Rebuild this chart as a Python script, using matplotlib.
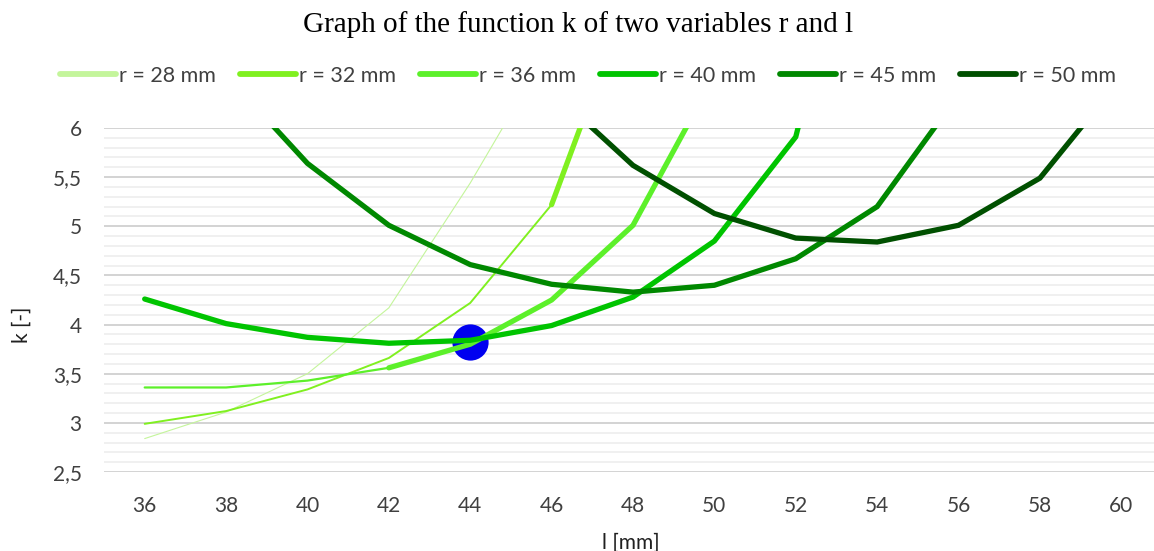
import matplotlib
matplotlib.use("Agg")
import matplotlib.pyplot as plt
import numpy as np
from matplotlib.lines import Line2D
from matplotlib.ticker import FixedLocator, MultipleLocator

plt.rcParams.update(
    {
        "font.family": ["Lato", "DejaVu Sans"],
        "axes.spines.top": False,
        "axes.spines.right": False,
        "axes.spines.left": False,
        "axes.spines.bottom": False,
    }
)

nan = np.nan
L = [36, 38, 40, 42, 44, 46, 48, 50, 52, 54, 56, 58, 60]
K28 = [2.84, 3.11, 3.50, 4.17, 5.44, 6.85, nan, nan, nan, nan, nan, nan, nan]
K32 = [2.99, 3.12, 3.34, 3.66, 4.22, 5.22, 7.45, nan, nan, nan, nan, nan, nan]
K36 = [3.36, 3.36, 3.43, 3.56, 3.80, 4.25, 5.01, 6.53, nan, nan, nan, nan, nan]
K40 = [4.26, 4.01, 3.87, 3.81, 3.84, 3.99, 4.28, 4.85, 5.91, 9.2, nan, nan, nan]
K45 = [nan, 6.54, 5.64, 5.01, 4.61, 4.41, 4.33, 4.40, 4.67, 5.20, 6.34, nan, nan]
K50 = [nan, nan, nan, nan, nan, 6.38, 5.62, 5.13, 4.88, 4.84, 5.01, 5.49, 6.51]
LABELS = ["r = 28 mm", "r = 32 mm", "r = 36 mm", "r = 40 mm", "r = 45 mm", "r = 50 mm"]
POINT_L = [44]
POINT_K = [3.82]

COLORS = ["#c4f59b", "#80f020", "#5cf02a", "#00c400", "#008800", "#005000"]
# index where the line turns thick (thin before it), and thin width
THICK_FROM = [None, 5, 3, 0, 0, 0]
THIN_W = [0.8, 1.4, 1.6, 1.6, 1.6, 1.6]
THICK_W = 3.8

fig = plt.figure(figsize=(11.54, 5.51), dpi=100)
ax = fig.add_axes([104 / 1154, 1 - 472 / 551, 1058 / 1154, 344 / 551])

x = np.array(L, dtype=float)
series = [K28, K32, K36, K40, K45, K50]
for i, ks in enumerate(series):
    y = np.array(ks, dtype=float)
    cut = THICK_FROM[i]
    if cut is None:
        ax.plot(x, y, color=COLORS[i], lw=THIN_W[i], solid_capstyle="round", zorder=3)
        continue
    if cut > 0:
        ax.plot(x[: cut + 1], y[: cut + 1], color=COLORS[i], lw=THIN_W[i],
                solid_capstyle="round", zorder=3)
    ax.plot(x[cut:], y[cut:], color=COLORS[i], lw=THICK_W, solid_capstyle="round",
            solid_joinstyle="miter", zorder=3 + i * 0.1)

ax.scatter(POINT_L, POINT_K, s=680, color="#0000f0", zorder=2.5, linewidths=0)

ax.set_xlim(35, 61)
ax.set_ylim(2.5, 6)
ax.xaxis.set_major_locator(FixedLocator(L))
ax.yaxis.set_major_locator(MultipleLocator(0.5))
ax.yaxis.set_minor_locator(MultipleLocator(0.1))
ax.set_yticks([2.5, 3, 3.5, 4, 4.5, 5, 5.5, 6])
ax.set_yticklabels(["2,5", "3", "3,5", "4", "4,5", "5", "5,5", "6"])
ax.grid(axis="y", which="major", color="#c8c8c8", lw=1.1, zorder=0)
ax.grid(axis="y", which="minor", color="#ececec", lw=1.1, zorder=0)
ax.tick_params(axis="both", which="both", length=0, labelsize=15, colors="#404040")
ax.tick_params(axis="x", pad=17)
ax.tick_params(axis="y", pad=16)
ax.set_axisbelow(True)

fig.text(22 / 1154, 1 - 325 / 551, "k [-]", rotation=90, ha="center", va="center",
         fontsize=15, color="#202020")
fig.text(631 / 1154, 1 - 543 / 551, "l [mm]", ha="center", va="center",
         fontsize=15, color="#202020")
fig.text(578 / 1154, 1 - 25 / 551, "Graph of the function k of two variables r and l",
         ha="center", va="center", fontsize=21, family="Liberation Serif", color="#000000")

handles = [Line2D([], [], color=c, lw=4.2, solid_capstyle="round") for c in COLORS]
fig.legend(handles, LABELS, loc="center", bbox_to_anchor=(588 / 1154, 1 - 76 / 551),
           ncol=6, frameon=False, fontsize=15.5, handlelength=2.6, handletextpad=0.15,
           columnspacing=1.1, labelcolor="#404040")

fig.savefig("out.png", dpi=100)
